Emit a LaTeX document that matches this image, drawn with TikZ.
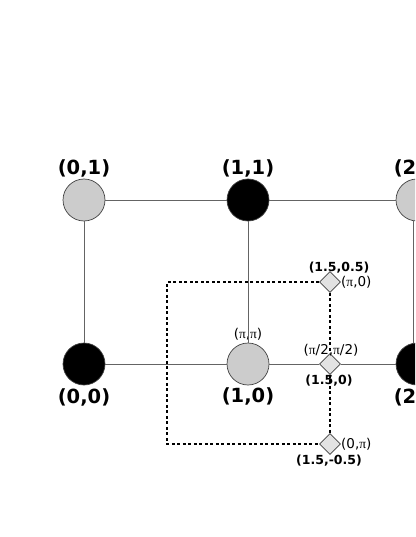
\documentclass[tikz,border=0pt]{standalone}
\usepackage{fontspec}
\setmainfont{DejaVu Sans}
\newfontfamily\grk{Liberation Serif}
\usepackage{xcolor}
\usetikzlibrary{shapes.geometric}
\definecolor{sitegray}{RGB}{204,204,204}
\definecolor{kgray}{RGB}{226,226,226}
\definecolor{bondgray}{RGB}{100,100,100}

\begin{document}
\begin{tikzpicture}[x=1pt, y=-1pt,
    site/.style={circle, draw=black!75, line width=0.7pt, minimum size=42pt, inner sep=0pt},
    evensite/.style={site, fill=black},
    oddsite/.style={site, fill=sitegray},
    kpoint/.style={diamond, draw=black!75, fill=kgray, line width=0.7pt, minimum size=21pt, inner sep=0pt},
    biglabel/.style={font=\fontsize{19.5}{22}\selectfont\bfseries},
    smalllabel/.style={font=\fontsize{12.5}{14}\selectfont\bfseries},
    momlabel/.style={font=\fontsize{13.5}{15}\selectfont, inner sep=1pt},
    bond/.style={draw=bondgray, line width=0.9pt},
    zone/.style={draw=black, line width=1.1pt, dash pattern=on 3pt off 2.5pt}]
    \useasboundingbox (0,0) rectangle (415,537);
    \clip (0,0) rectangle (415,537);

    % Lattice sites
    \node[oddsite]  (n01) at (84,200) {};
    \node[evensite] (n11) at (248,200) {};
    \node[oddsite]  (n21) at (417,200) {};
    \node[evensite] (n00) at (84,364) {};
    \node[oddsite]  (n10) at (248,364) {};
    \node[evensite] (n20) at (417,364) {};

    % Site labels
    \node[biglabel] (l01) at (84,168) {(0,1)};
    \node[biglabel] (l11) at (248,168) {(1,1)};
    \node[biglabel] (l21) at (420,168) {(2,1)};
    \node[biglabel] (l00) at (84,397) {(0,0)};
    \node[biglabel] (l10) at (248,396) {(1,0)};
    \node[biglabel] (l20) at (420,397) {(2,0)};

    % k points
    \node[kpoint] (kt) at (330,282) {};
    \node[kpoint] (km) at (330,364) {};
    \node[kpoint] (kb) at (330,444) {};
    \coordinate (ct) at (167,282);
    \coordinate (cb) at (167,444);

    % k point labels
    \node[smalllabel] (lkt) at (339,268) {(1.5,0.5)};
    \node[smalllabel] (lkm) at (329,381) {(1.5,0)};
    \node[smalllabel] (lkb) at (329,461) {(1.5,-0.5)};
    \node[momlabel, anchor=west] (mkt) at (340,282) {({\grk π},0)};
    \node[momlabel, anchor=west] (mkb) at (340,444) {(0,{\grk π})};
    \node[momlabel] (mkm) at (331,350) {({\grk π}/2,{\grk π}/2)};
    \node[momlabel] (m10) at (248,334) {({\grk π},{\grk π})};

    % Bonds
    \draw[bond] (n01) -- (n11);
    \draw[bond] (n11) -- (n21);
    \draw[bond] (n00) -- (n10);
    \draw[bond] (n10) -- (km);
    \draw[bond] (km) -- (n20);
    \draw[bond] (n01) -- (n00);
    \draw[bond] (n11) -- (n10);
    \draw[bond] ([xshift=-4pt]n21.south) -- ([xshift=-4pt]n20.north);

    % Zone boundary
    \draw[zone] (kt) -- (ct) -- (cb) -- (kb);
    \draw[zone] (kt) -- (km);
    \draw[zone] (km) -- (kb);
\end{tikzpicture}
\end{document}
